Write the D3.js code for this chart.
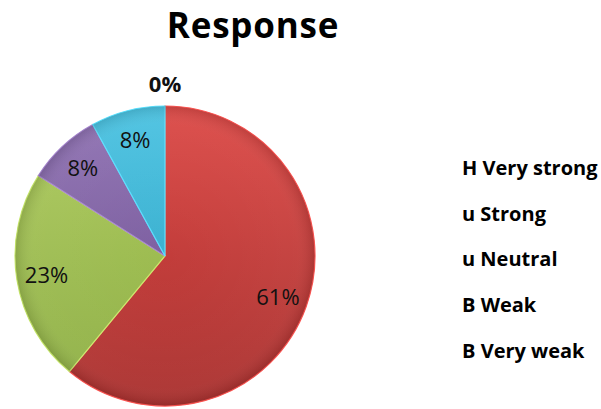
<!DOCTYPE html>
<html lang="en">
<head>
<meta charset="UTF-8">
<title>Response</title>
<script src="https://cdn.jsdelivr.net/npm/d3@7"></script>
<style>
    body{ margin:0; background:#fff; }
    text{ font-family: "Open Sans", Lato, sans-serif; }
</style>
</head>
<body>
<svg id="main" width="601" height="409"></svg>
<script>
    // data
    let categories = ["Very strong", "Strong", "Neutral", "Weak", "Very weak"];
    let markers = ["H", "u", "u", "B", "B"];
    let values = [0, 61, 23, 8, 8];
    let colorsTop = ["#5b8fd0", "#dc4a47", "#aecb5e", "#9174b4", "#4cc3e2"];
    let colorsBottom = ["#3f6aa0", "#a9302e", "#8dae44", "#6a4c8e", "#2c9fbf"];

    let svg = d3.select("#main");
    let cx = 165, cy = 256, r = 150;

    // title
    svg.append("text")
        .attr("x", 253).attr("y", 38)
        .attr("text-anchor", "middle")
        .attr("font-size", 35).attr("font-weight", "bold")
        .attr("letter-spacing", 0.8)
        .text("Response");

    // gradients (coordinates relative to the pie centre)
    let defs = svg.append("defs");
    categories.forEach(function(c, i){
        let lg = defs.append("linearGradient")
            .attr("id", "grad" + i)
            .attr("gradientUnits", "userSpaceOnUse")
            .attr("x1", 0).attr("y1", -r).attr("x2", 0).attr("y2", r);
        lg.append("stop").attr("offset", "0%").attr("stop-color", colorsTop[i]);
        lg.append("stop").attr("offset", "100%").attr("stop-color", colorsBottom[i]);
    });
    let shade = defs.append("radialGradient").attr("id", "shade")
        .attr("gradientUnits", "userSpaceOnUse")
        .attr("cx", 0).attr("cy", 0).attr("r", r);
    shade.append("stop").attr("offset", "0%").attr("stop-color", "#fff").attr("stop-opacity", 0);
    shade.append("stop").attr("offset", "88%").attr("stop-color", "#fff").attr("stop-opacity", 0.04);
    shade.append("stop").attr("offset", "100%").attr("stop-color", "#000").attr("stop-opacity", 0.12);

    let pie = d3.pie().sort(null).value(d => d);
    let arcs = pie(values);
    let arc = d3.arc().innerRadius(0).outerRadius(r);
    let labelArc = d3.arc().innerRadius(r * 0.8).outerRadius(r * 0.8);
    let outArc = d3.arc().innerRadius(r + 22).outerRadius(r + 22);

    let g = svg.append("g").attr("transform", "translate(" + cx + "," + cy + ")");

    g.selectAll("path.slice")
        .data(arcs)
        .join("path")
        .attr("class", "slice")
        .attr("d", arc)
        .attr("fill", (d, i) => "url(#grad" + i + ")")
        .attr("stroke", (d, i) => d3.color(colorsTop[i]).brighter(0.4))
        .attr("stroke-width", 1.2);

    g.append("circle").attr("r", r).attr("fill", "url(#shade)");

    g.selectAll("text.lbl")
        .data(arcs)
        .join("text")
        .attr("class", "lbl")
        .attr("transform", d => "translate(" + (d.value === 0 ? outArc.centroid(d) : labelArc.centroid(d)) + ")")
        .attr("text-anchor", "middle")
        .attr("dy", "0.36em")
        .attr("font-size", 22)
        .attr("font-weight", d => d.value === 0 ? "bold" : "normal")
        .attr("fill", "#111")
        .text(d => d.value + "%");

    // legend
    let legend = svg.append("g");
    legend.selectAll("text")
        .data(categories)
        .join("text")
        .attr("x", 462)
        .attr("y", (d, i) => 175 + i * 45.7)
        .attr("font-size", 20)
        .attr("font-weight", "bold")
        .text((d, i) => markers[i] + " " + d);
</script>
</body>
</html>
